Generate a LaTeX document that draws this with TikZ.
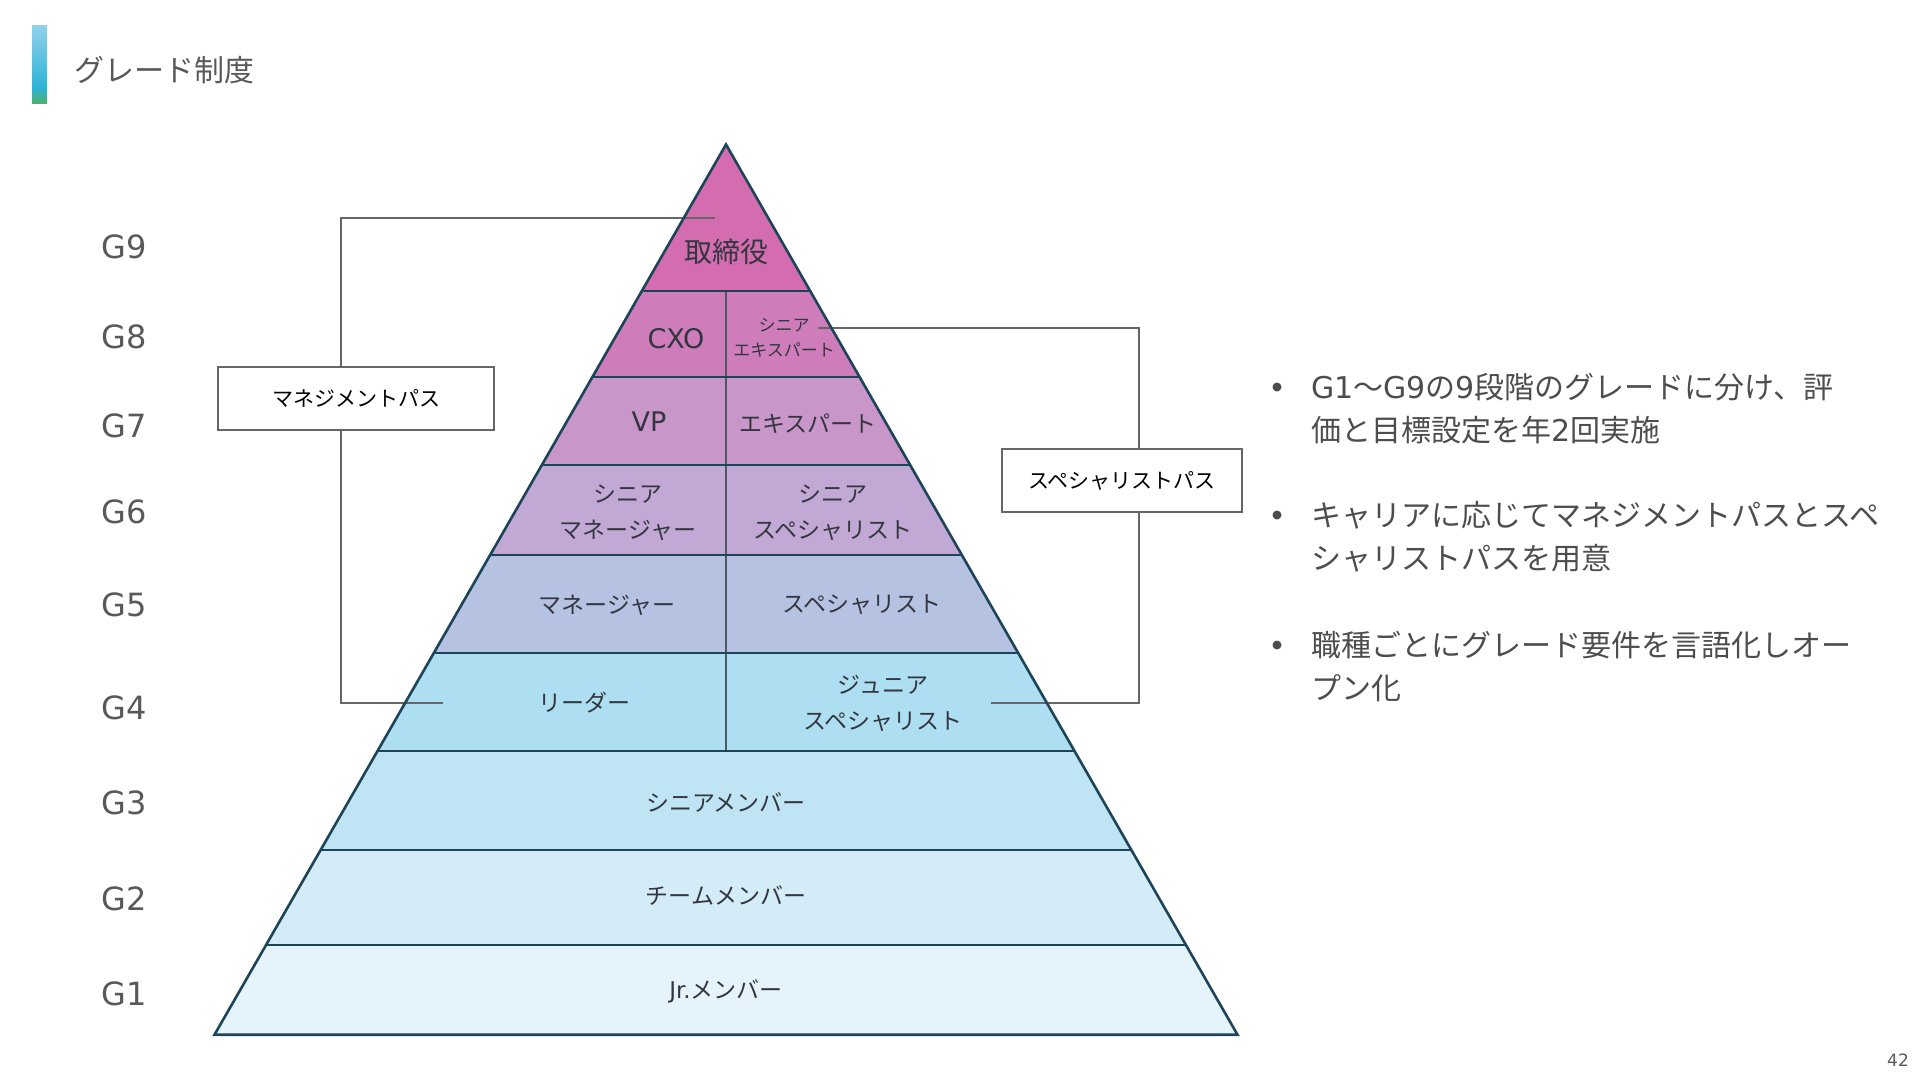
\documentclass[tikz,border=0pt]{standalone}
\usepackage{fontspec}
\setmainfont{Noto Sans CJK JP}
\newfontfamily\lat{DejaVu Sans}
\usetikzlibrary{calc}
\definecolor{cNine}{HTML}{D46CB0}
\definecolor{cEight}{HTML}{CF7CBA}
\definecolor{cSeven}{HTML}{C896C8}
\definecolor{cSix}{HTML}{C2A8D4}
\definecolor{cFive}{HTML}{B6C2E2}
\definecolor{cFour}{HTML}{AEDEF1}
\definecolor{cThree}{HTML}{BFE5F5}
\definecolor{cTwo}{HTML}{D4ECF8}
\definecolor{cOne}{HTML}{E5F4FB}
\definecolor{edgec}{HTML}{1D4459}
\definecolor{divc}{HTML}{4A5868}
\definecolor{ptext}{HTML}{33363F}
\definecolor{gtext}{HTML}{595959}
\definecolor{btext}{HTML}{4D4D4D}
\definecolor{linegray}{HTML}{666666}
\definecolor{barTop}{HTML}{92D2EA}
\definecolor{barMid}{HTML}{2CB3D6}
\definecolor{barBot}{HTML}{4DB16B}
\begin{document}
\begin{tikzpicture}[x=1pt,y=-1pt,
  lvl/.style={font=\fontsize{23}{36}\selectfont, text=ptext, align=center, inner sep=0pt},
  grade/.style={font=\lat\fontsize{32}{38}\selectfont, text=gtext, inner sep=0pt},
  pathbox/.style={draw=linegray, line width=1.5pt, fill=white, minimum height=63pt, font=\fontsize{21}{25}\selectfont, text=black, inner sep=0pt},
  conn/.style={draw=linegray, line width=1.6pt},
  bul/.style={anchor=base west, font=\fontsize{30}{43}\selectfont, text=btext, inner sep=0pt},
  hline/.style={draw=edgec, line width=2pt},
  outline/.style={draw=edgec, line width=2.6pt, line join=miter}
]
\useasboundingbox (0,0) rectangle (1920,1080);

% title
\shade[top color=barTop, bottom color=barMid] (32,25) rectangle (47,88);
\shade[top color=barMid, bottom color=barBot] (32,88) rectangle (47,103);
\node[anchor=base west, font=\fontsize{30}{36}\selectfont, text=gtext, inner sep=0pt] (title) at (74,81) {グレード制度};

% pyramid geometry
\coordinate (A) at (726,144.5);
\coordinate (BL) at (214.5,1034.7);
\coordinate (BR) at (1237.5,1034.7);
\foreach \i/\t in {1/0.1650,2/0.2613,3/0.3604,4/0.4608,5/0.5709,6/0.6809,7/0.7923,8/0.8996,9/1.0}{
  \coordinate (L\i) at ($(A)!\t!(BL)$);
  \coordinate (R\i) at ($(A)!\t!(BR)$);
}
\fill[cNine] (A) -- (R1) -- (L1) -- cycle;
\foreach \a/\b/\c in {1/2/cEight,2/3/cSeven,3/4/cSix,4/5/cFive,5/6/cFour,6/7/cThree,7/8/cTwo,8/9/cOne}{
  \fill[\c] (L\a) -- (R\a) -- (R\b) -- (L\b) -- cycle;
}
\draw[divc, line width=1.5pt] ($(L1)!0.5!(R1)$) -- ($(L6)!0.5!(R6)$);
\foreach \i in {1,...,8}{ \draw[hline] (L\i) -- (R\i); }

% path boxes and connectors
\node[pathbox, minimum width=276pt] (mgmt) at (356,398.5) {マネジメントパス};
\node[pathbox, minimum width=240pt] (spec) at (1122,480.5) {スペシャリストパス};
\coordinate (m1) at (715,218);
\coordinate (m2) at (443,703);
\coordinate (s1) at (818,328);
\coordinate (s2) at (991,703);
\draw[conn] (m1) -| ($(mgmt.north)+(-15,0)$);
\draw[conn] (m2) -| ($(mgmt.south)+(-15,0)$);
\draw[conn] (s1) -| ($(spec.north)+(17,0)$);
\draw[conn] (s2) -| ($(spec.south)+(17,0)$);

\draw[outline] (A) -- (BR) -- (BL) -- cycle;

% level texts
\node[lvl, font=\fontsize{28}{32}\selectfont] (t9) at (726,252) {取締役};
\node[lvl, font=\lat\fontsize{27}{32}\selectfont] (cxo) at (676,339) {CXO};
\node[lvl, font=\fontsize{17}{25}\selectfont] (sexp) at (784,338) {シニア\\エキスパート};
\node[lvl, font=\lat\fontsize{27}{32}\selectfont] (vp) at (649,422) {VP};
\node[lvl] (exp) at (808,424) {エキスパート};
\node[lvl] (smgr) at (628,513) {シニア\\マネージャー};
\node[lvl] (sspec) at (833,513) {シニア\\スペシャリスト};
\node[lvl] (mgr) at (607,605) {マネージャー};
\node[lvl] (spc) at (862,605) {スペシャリスト};
\node[lvl] (leader) at (584,703) {リーダー};
\node[lvl] (jspec) at (883,703) {ジュニア\\スペシャリスト};
\node[lvl] (g3t) at (726,802) {シニアメンバー};
\node[lvl] (g2t) at (726,896) {チームメンバー};
\node[lvl] (g1t) at (726,991) {{\lat Jr.}メンバー};

% grade labels
\foreach \g/\y in {9/247,8/337,7/426,6/512,5/605,4/708,3/803,2/899,1/994}{
  \node[grade] (g\g) at (124,\y) {G\g};
}

% bullets
\foreach \y in {387,515,645}{ \fill[btext] (1277,\y) circle (4.5pt); }
\node[bul] (b1a) at (1311,398.5) {{\lat G1}～{\lat G9}の{\lat 9}段階のグレードに分け、評};
\node[bul] (b1b) at (1311,441.5) {価と目標設定を年{\lat 2}回実施};
\node[bul] (b2a) at (1311,526.5) {キャリアに応じてマネジメントパスとスペ};
\node[bul] (b2b) at (1311,569.5) {シャリストパスを用意};
\node[bul] (b3a) at (1311,656.5) {職種ごとにグレード要件を言語化しオー};
\node[bul] (b3b) at (1311,699.5) {プン化};

% page number
\node[font=\lat\fontsize{17}{20}\selectfont, text=gtext, inner sep=0pt] (pg) at (1898,1060) {42};
\end{tikzpicture}
\end{document}
